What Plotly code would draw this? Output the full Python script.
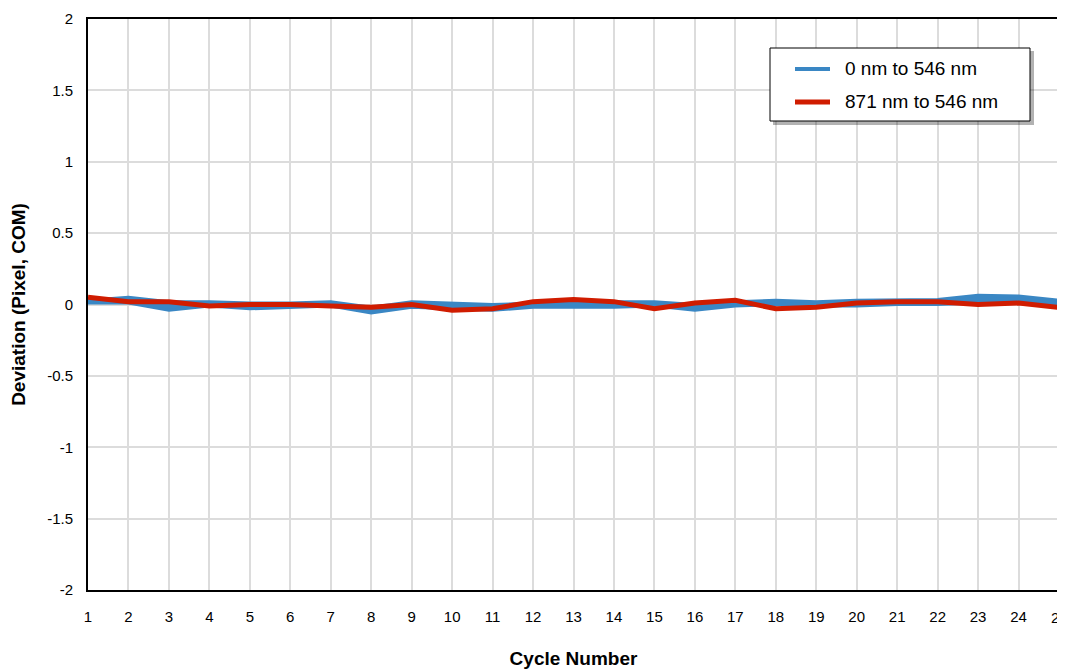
import plotly.graph_objects as go

cycles = list(range(1, 26))

# blue series "0 nm to 546 nm" is drawn as a narrow band (upper / lower edge)
blue_upper = [0.03, 0.05, 0.02, 0.02, 0.01, 0.01, 0.02, -0.02, 0.02, 0.01, 0.0, 0.01, 0.02,
              0.02, 0.02, 0.0, 0.02, 0.03, 0.02, 0.03, 0.03, 0.035, 0.065, 0.06, 0.03]
blue_lower = [0.01, 0.01, -0.04, -0.01, -0.03, -0.02, -0.01, -0.06, -0.02, -0.03, -0.04, -0.02, -0.02,
              -0.02, -0.01, -0.04, -0.01, 0.0, -0.01, -0.01, 0.0, 0.0, 0.01, 0.01, -0.005]
red_vals = [0.05, 0.02, 0.02, -0.01, 0.0, 0.0, -0.01, -0.02, 0.0, -0.04, -0.03, 0.02, 0.035,
            0.02, -0.03, 0.01, 0.03, -0.03, -0.02, 0.01, 0.02, 0.02, 0.0, 0.01, -0.02]

y_ticks = [-2, -1.5, -1, -0.5, 0, 0.5, 1, 1.5, 2]
y_labels = ['-2', '-1.5', '-1', '-0.5', '0', '0.5', '1', '1.5', '2']
names = ['0 nm to 546 nm', '871 nm to 546 nm']

blue = '#3a87c4'
red = '#d01c00'

fig = go.Figure()
fig.add_trace(go.Scatter(x=cycles, y=blue_lower, mode='lines', line=dict(color=blue, width=3),
                         name=names[0], showlegend=False))
fig.add_trace(go.Scatter(x=cycles, y=blue_upper, mode='lines', line=dict(color=blue, width=3),
                         fill='tonexty', fillcolor=blue, showlegend=False, hoverinfo='skip'))
fig.add_trace(go.Scatter(x=cycles, y=red_vals, mode='lines', line=dict(color=red, width=5),
                         name=names[1], showlegend=False))

# legend box drawn by hand (plot area is 971 x 571 px)
def px(v):
    return v / 971

def py(v):
    return 1 - v / 571

shapes = [
    dict(type='rect', xref='paper', yref='paper', x0=px(685), x1=px(946), y0=py(106), y1=py(32),
         line=dict(width=0), fillcolor='rgba(0,0,0,0.3)'),
    dict(type='rect', xref='paper', yref='paper', x0=px(682), x1=px(942), y0=py(102), y1=py(29),
         line=dict(color='black', width=1), fillcolor='white'),
]
annotations = []
for i, (nm, col) in enumerate(zip(names, [blue, red])):
    yy = py(50 + 33 * i)
    shapes.append(dict(type='line', xref='paper', yref='paper', x0=px(707), x1=px(742), y0=yy, y1=yy,
                       line=dict(color=col, width=4 + i)))
    annotations.append(dict(xref='paper', yref='paper', x=px(755), y=yy, text=nm, showarrow=False,
                            xanchor='left', yanchor='middle', font=dict(size=19)))
# last tick label runs off the page edge as in the original
annotations.append(dict(xref='x', yref='paper', x=25, y=0, yshift=-27, text='25', showarrow=False,
                        xanchor='center', yanchor='middle', font=dict(size=15)))

# page body has an 8px margin, so the figure is shifted by 8px
fig.update_layout(
    width=1057, height=663,
    margin=dict(l=80, r=6, t=11, b=81, autoexpand=False),
    plot_bgcolor='white', paper_bgcolor='white',
    font=dict(family='Liberation Sans, Arial, sans-serif', size=15, color='black'),
    shapes=shapes, annotations=annotations,
)
fig.update_xaxes(range=[1, 25], tickmode='array', tickvals=cycles[:-1], showgrid=True, gridcolor='#dcdcdc',
                 gridwidth=2, showline=True, linecolor='black', linewidth=2, mirror=True,
                 ticks='', ticklabelstandoff=12, zeroline=False, automargin=False,
                 title=dict(text='<b>Cycle Number</b>', font=dict(size=19), standoff=28))
fig.update_yaxes(range=[-2, 2], tickmode='array', tickvals=y_ticks, ticktext=y_labels,
                 showgrid=True, gridcolor='#dcdcdc',
                 gridwidth=2, showline=True, linecolor='black', linewidth=2, mirror=True,
                 ticks='', ticklabelstandoff=10, zeroline=False, automargin=False,
                 title=dict(text='<b>Deviation (Pixel, COM)</b>', font=dict(size=19), standoff=28))

fig.write_html("out.html")
